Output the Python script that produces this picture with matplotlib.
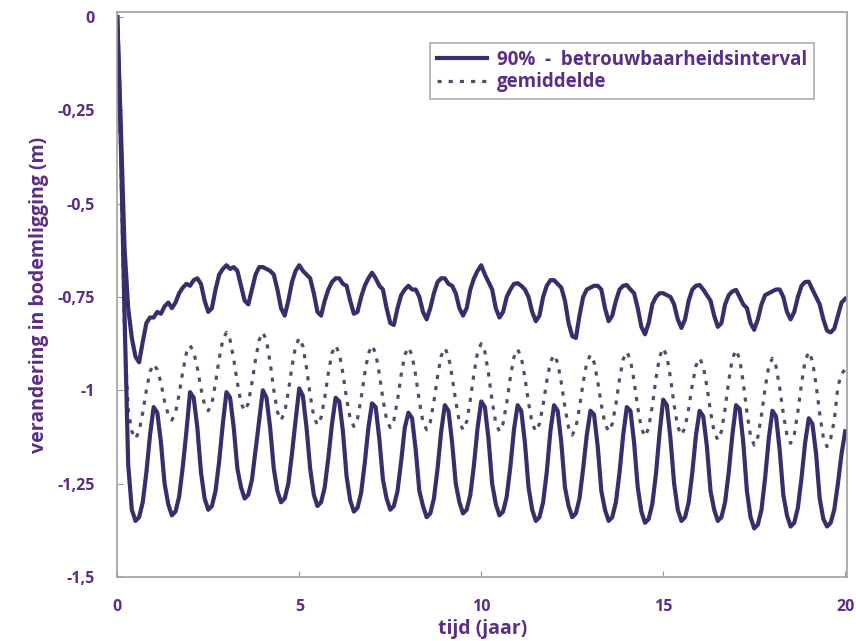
import numpy as np
import matplotlib.pyplot as plt

# sampled every 0.1 year, one row per year (t = n.0 ... n.9), last value at t = 20
tijd = np.round(np.arange(201) * 0.1, 1)

bovengrens = [
    [0.0, -0.30, -0.62, -0.78, -0.86, -0.91, -0.925, -0.87, -0.82, -0.805],
    [-0.805, -0.79, -0.795, -0.775, -0.765, -0.78, -0.765, -0.74, -0.725, -0.715],
    [-0.72, -0.705, -0.70, -0.715, -0.76, -0.79, -0.78, -0.73, -0.69, -0.675],
    [-0.665, -0.675, -0.67, -0.68, -0.72, -0.76, -0.77, -0.73, -0.69, -0.67],
    [-0.67, -0.675, -0.68, -0.69, -0.73, -0.78, -0.80, -0.76, -0.71, -0.68],
    [-0.665, -0.68, -0.69, -0.70, -0.74, -0.79, -0.80, -0.76, -0.73, -0.71],
    [-0.70, -0.70, -0.715, -0.72, -0.76, -0.795, -0.79, -0.75, -0.72, -0.70],
    [-0.685, -0.70, -0.72, -0.73, -0.78, -0.82, -0.825, -0.78, -0.745, -0.73],
    [-0.72, -0.73, -0.73, -0.75, -0.79, -0.81, -0.78, -0.74, -0.71, -0.70],
    [-0.70, -0.715, -0.72, -0.74, -0.78, -0.80, -0.78, -0.73, -0.70, -0.68],
    [-0.665, -0.69, -0.71, -0.73, -0.78, -0.805, -0.79, -0.75, -0.73, -0.715],
    [-0.713, -0.72, -0.73, -0.75, -0.79, -0.815, -0.80, -0.75, -0.72, -0.705],
    [-0.705, -0.715, -0.725, -0.76, -0.82, -0.855, -0.86, -0.80, -0.75, -0.73],
    [-0.725, -0.72, -0.72, -0.73, -0.78, -0.815, -0.80, -0.76, -0.73, -0.72],
    [-0.718, -0.73, -0.74, -0.78, -0.83, -0.85, -0.82, -0.77, -0.75, -0.74],
    [-0.74, -0.745, -0.75, -0.77, -0.81, -0.833, -0.81, -0.76, -0.73, -0.72],
    [-0.718, -0.73, -0.745, -0.76, -0.80, -0.83, -0.82, -0.77, -0.745, -0.735],
    [-0.731, -0.75, -0.77, -0.78, -0.82, -0.838, -0.81, -0.77, -0.745, -0.74],
    [-0.735, -0.73, -0.73, -0.75, -0.79, -0.81, -0.79, -0.75, -0.72, -0.71],
    [-0.709, -0.73, -0.75, -0.77, -0.81, -0.84, -0.845, -0.835, -0.80, -0.765],
    [-0.755],
]

gemiddelde = [
    [0.0, -0.40, -0.85, -1.05, -1.11, -1.13, -1.11, -1.06, -1.00, -0.95],
    [-0.93, -0.945, -0.98, -1.03, -1.065, -1.08, -1.06, -1.01, -0.95, -0.90],
    [-0.88, -0.897, -0.94, -0.995, -1.04, -1.055, -1.035, -0.98, -0.915, -0.865],
    [-0.845, -0.865, -0.917, -0.98, -1.035, -1.055, -1.035, -0.98, -0.917, -0.865],
    [-0.845, -0.867, -0.926, -0.999, -1.058, -1.08, -1.059, -1.004, -0.936, -0.881],
    [-0.86, -0.882, -0.94, -1.013, -1.071, -1.093, -1.073, -1.02, -0.953, -0.90],
    [-0.88, -0.901, -0.955, -1.022, -1.076, -1.097, -1.076, -1.022, -0.955, -0.901],
    [-0.88, -0.901, -0.956, -1.024, -1.079, -1.10, -1.08, -1.026, -0.959, -0.905],
    [-0.885, -0.906, -0.961, -1.03, -1.085, -1.106, -1.085, -1.03, -0.963, -0.908],
    [-0.887, -0.908, -0.963, -1.03, -1.085, -1.106, -1.084, -1.026, -0.955, -0.897],
    [-0.875, -0.897, -0.956, -1.029, -1.088, -1.11, -1.089, -1.034, -0.966, -0.911],
    [-0.89, -0.911, -0.966, -1.034, -1.089, -1.11, -1.09, -1.039, -0.976, -0.924],
    [-0.905, -0.926, -0.979, -1.046, -1.10, -1.12, -1.10, -1.046, -0.979, -0.926],
    [-0.905, -0.925, -0.976, -1.039, -1.09, -1.11, -1.09, -1.037, -0.97, -0.917],
    [-0.897, -0.919, -0.975, -1.046, -1.102, -1.124, -1.101, -1.042, -0.969, -0.91],
    [-0.887, -0.909, -0.967, -1.04, -1.098, -1.12, -1.10, -1.049, -0.985, -0.934],
    [-0.914, -0.935, -0.99, -1.057, -1.112, -1.133, -1.11, -1.05, -0.975, -0.915],
    [-0.892, -0.916, -0.98, -1.059, -1.123, -1.147, -1.125, -1.067, -0.994, -0.936],
    [-0.914, -0.936, -0.993, -1.063, -1.12, -1.142, -1.119, -1.057, -0.982, -0.92],
    [-0.897, -0.921, -0.985, -1.063, -1.127, -1.151, -1.13, -1.08, -0.99, -0.955],
    [-0.945],
]

ondergrens = [
    [0.0, -0.35, -0.80, -1.20, -1.32, -1.35, -1.34, -1.30, -1.22, -1.12],
    [-1.045, -1.06, -1.14, -1.25, -1.305, -1.335, -1.325, -1.285, -1.205, -1.11],
    [-1.005, -1.02, -1.10, -1.22, -1.29, -1.32, -1.31, -1.27, -1.19, -1.09],
    [-1.005, -1.02, -1.10, -1.21, -1.26, -1.29, -1.28, -1.24, -1.16, -1.08],
    [-1.00, -1.02, -1.10, -1.21, -1.27, -1.30, -1.29, -1.25, -1.17, -1.08],
    [-0.995, -1.015, -1.10, -1.21, -1.28, -1.31, -1.30, -1.26, -1.18, -1.09],
    [-1.02, -1.03, -1.11, -1.23, -1.295, -1.325, -1.315, -1.275, -1.195, -1.10],
    [-1.035, -1.045, -1.13, -1.24, -1.29, -1.32, -1.31, -1.27, -1.19, -1.10],
    [-1.06, -1.075, -1.16, -1.27, -1.31, -1.34, -1.33, -1.29, -1.21, -1.11],
    [-1.04, -1.055, -1.14, -1.25, -1.30, -1.33, -1.32, -1.28, -1.20, -1.10],
    [-1.03, -1.045, -1.13, -1.25, -1.305, -1.335, -1.325, -1.285, -1.205, -1.105],
    [-1.04, -1.055, -1.14, -1.26, -1.32, -1.35, -1.34, -1.30, -1.22, -1.11],
    [-1.04, -1.055, -1.14, -1.26, -1.31, -1.34, -1.33, -1.29, -1.21, -1.12],
    [-1.055, -1.065, -1.15, -1.27, -1.32, -1.35, -1.34, -1.30, -1.22, -1.12],
    [-1.045, -1.055, -1.14, -1.26, -1.325, -1.355, -1.345, -1.305, -1.225, -1.115],
    [-1.025, -1.04, -1.13, -1.25, -1.32, -1.35, -1.34, -1.30, -1.22, -1.12],
    [-1.055, -1.07, -1.15, -1.27, -1.32, -1.35, -1.34, -1.30, -1.22, -1.12],
    [-1.04, -1.05, -1.14, -1.27, -1.34, -1.37, -1.36, -1.32, -1.235, -1.13],
    [-1.055, -1.07, -1.16, -1.28, -1.335, -1.365, -1.355, -1.315, -1.235, -1.14],
    [-1.075, -1.09, -1.17, -1.29, -1.345, -1.365, -1.355, -1.32, -1.25, -1.17],
    [-1.11],
]

y_ticks = [0, -0.25, -0.5, -0.75, -1, -1.25, -1.5]
y_labels = ['0', '-0,25', '-0,5', '-0,75', '-1', '-1,25', '-1,5']
x_ticks = [0, 5, 10, 15, 20]

lijn_kleur = '#3b2c6b'
stip_kleur = '#554c6c'
tekst_kleur = '#5b2d86'
plt.rcParams['font.family'] = ['Open Sans', 'DejaVu Sans']

fig, ax = plt.subplots(figsize=(8.56, 6.41), dpi=100)
fig.subplots_adjust(left=0.137, right=0.9895, top=0.981, bottom=0.1)

ax.plot(tijd, np.concatenate(bovengrens), color=lijn_kleur, linewidth=3.0,
        label='90%  -  betrouwbaarheidsinterval')
ax.plot(tijd, np.concatenate(gemiddelde), color=stip_kleur, linewidth=2.3,
        linestyle=(0, (1.3, 2.2)), label='gemiddelde')
ax.plot(tijd, np.concatenate(ondergrens), color=lijn_kleur, linewidth=3.0)

ax.set_xlim(0, 20.05)
ax.set_ylim(-1.5, 0.013)
ax.set_xticks(x_ticks)
ax.set_xticklabels([str(v) for v in x_ticks])
ax.set_yticks(y_ticks)
ax.set_yticklabels(y_labels)
ax.tick_params(direction='in', length=4, color='#999999', pad=16,
               labelsize=11.5, labelcolor=tekst_kleur)
for lab in ax.get_xticklabels() + ax.get_yticklabels():
    lab.set_fontweight('bold')
for sp in ax.spines.values():
    sp.set_color('#a0a0a0')
    sp.set_linewidth(1.2)

ax.set_xlabel('tijd (jaar)', fontsize=14, fontweight='bold', color=tekst_kleur, labelpad=3)
ax.set_ylabel('verandering in bodemligging (m)', fontsize=14, fontweight='bold',
              color=tekst_kleur, labelpad=6)

leg = ax.legend(loc='upper right', bbox_to_anchor=(0.967, 0.962), fontsize=13.5,
                handlelength=2.7, frameon=True, fancybox=False, borderpad=0.35,
                labelspacing=0.15, handletextpad=0.5)
leg.get_frame().set_edgecolor('#999999')
leg.get_frame().set_linewidth(1.2)
for txt in leg.get_texts():
    txt.set_color(tekst_kleur)
    txt.set_fontweight('bold')

fig.savefig('out.png', dpi=100)
